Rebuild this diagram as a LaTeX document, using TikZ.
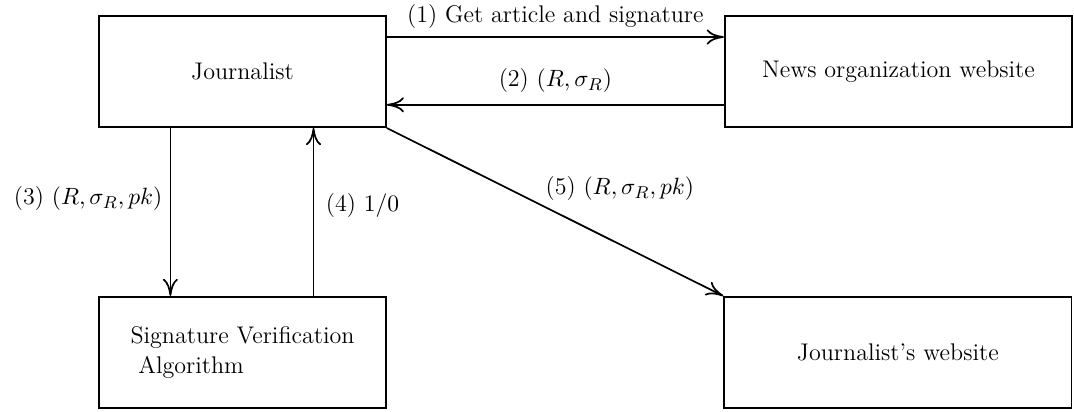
\documentclass[tikz,border=0pt]{standalone}
\usepackage{amsmath}
\usepackage{amssymb}
\usepackage{tikz}
\usetikzlibrary{arrows.meta}

\begin{document}
\begin{tikzpicture}[
    every node/.style={font=\fontsize{11.2}{13.5}\selectfont},
    party/.style={draw, thick, minimum width=4.69cm, minimum height=1.82cm},
    site/.style={draw, thick, minimum width=5.68cm, minimum height=1.82cm},
    msg/.style={-{To[length=8pt,width=7pt]}, thick}
]

    \useasboundingbox (0,0) rectangle (17.56,-6.72);

    % Parties
    \node[party] (jour) at (3.965,-1.169) {Journalist};
    \node[site] (news) at (14.69,-1.169) {News organization website};
    \node[party, align=left] (sva) at (3.965,-5.763)
        {Signature Verification\\ \ Algorithm};
    \node[site] (jsite) at (14.68,-5.763) {Journalist's website};

    % Fetch article
    \draw[msg] ([yshift=-0.36cm]jour.north east) -- ([yshift=-0.36cm]news.north west)
        node[midway, above] {(1) Get article and signature};

    \draw[msg] ([yshift=0.38cm]news.south east -| news.west) -- ([yshift=0.38cm]jour.south east)
        node[midway, above, yshift=2pt] {(2) $(R,\sigma_R)$};

    % Verification
    \draw[msg] ([xshift=1.18cm]jour.south west) -- ([xshift=1.18cm]sva.north west)
        node[pos=0.42, left] {(3) $(R,\sigma_R,pk)$};

    \draw[msg] ([xshift=3.52cm]sva.north west) -- ([xshift=3.52cm]jour.south west)
        node[midway, right, yshift=3pt, xshift=2pt] {(4) $1/0$};

    % Publish
    \draw[msg] (jour.south east) -- (jsite.north west)
        node[pos=0.48, above right, xshift=-5pt, yshift=0pt] {(5) $(R,\sigma_R,pk)$};

\end{tikzpicture}
\end{document}
